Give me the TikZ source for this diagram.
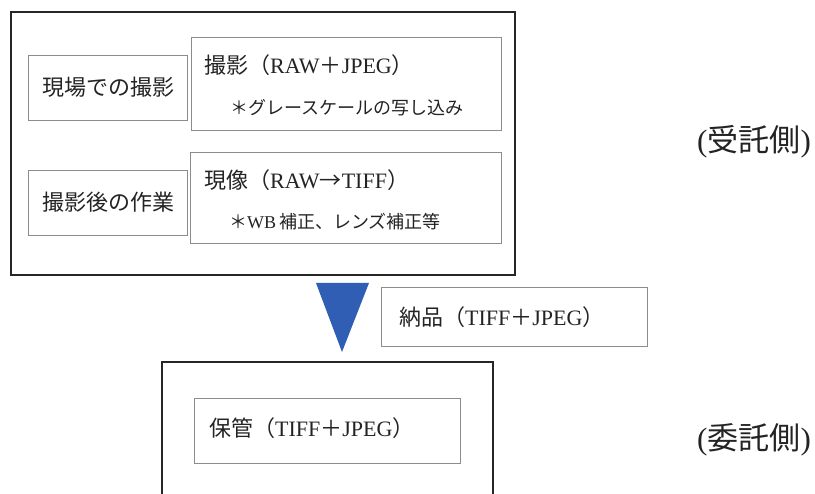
\documentclass[tikz,border=0pt]{standalone}
\usepackage{fontspec}
\setmainfont{Liberation Serif}
\newfontfamily\cjk{Noto Sans CJK JP}
\definecolor{tri}{RGB}{47,94,180}
\definecolor{txt}{RGB}{35,35,35}
\begin{document}
\begin{tikzpicture}[x=1pt,y=-1pt,
  outerbox/.style={draw=black!85,line width=1.8pt},
  innerbox/.style={draw=black!45,line width=1.4pt,anchor=north west,inner sep=0pt},
  lbl/.style={anchor=west,inner sep=0pt,text=txt,font=\fontsize{22}{22}\selectfont},
  small/.style={anchor=west,inner sep=0pt,text=txt,font=\fontsize{18}{18}\selectfont},
  side/.style={anchor=west,inner sep=0pt,text=txt,font=\fontsize{31}{31}\selectfont}]
\useasboundingbox (0,0) rectangle (815,494);
% upper outer box
\draw[outerbox] (11,12) rectangle (515,275);
% inner boxes
\node[innerbox,minimum width=159pt,minimum height=65pt] (genba) at (28,55) {};
\node[innerbox,minimum width=310pt,minimum height=93pt] (satsuei) at (191,37) {};
\node[innerbox,minimum width=159pt,minimum height=65pt] (sagyou) at (28,170) {};
\node[innerbox,minimum width=311pt,minimum height=91pt] (genzou) at (190,152) {};
% texts
\node[lbl] (t1) at (42,87) {\cjk 現場での撮影};
\node[lbl] (t2) at (42,202) {\cjk 撮影後の作業};
\node[lbl] (t3) at (204,65) {{\cjk 撮影（}RAW{\cjk ＋}JPEG{\cjk ）}};
\node[small] (t4) at (230,108) {\cjk ＊グレースケールの写し込み};
\node[lbl] (t5) at (204,180) {{\cjk 現像（}RAW{\cjk →}TIFF{\cjk ）}};
\node[small] (t6) at (229,222) {{\cjk ＊}WB\,{\cjk 補正、レンズ補正等}};
% triangle
\coordinate (ta) at (316,283);
\coordinate (tb) at (369,283);
\coordinate (tc) at (342,352);
\fill[tri] (ta) -- (tb) -- (tc) -- cycle;
% delivery box
\node[innerbox,minimum width=266pt,minimum height=59pt] (nouhin) at (381,287) {};
\node[lbl] (t7) at (399,317) {{\cjk 納品（}TIFF{\cjk ＋}JPEG{\cjk ）}};
% lower outer box (cut at bottom)
\coordinate (b1) at (162,494);
\coordinate (b2) at (162,362);
\coordinate (b3) at (493,362);
\coordinate (b4) at (493,494);
\draw[outerbox] (b1) -- (b2) -- (b3) -- (b4);
\node[innerbox,minimum width=266pt,minimum height=65pt] (hokan) at (194,398) {};
\node[lbl] (t8) at (209,428) {{\cjk 保管（}TIFF{\cjk ＋}JPEG{\cjk ）}};
% side labels
\node[side] (s1) at (697,142) {({\cjk 受託側})};
\node[side] (s2) at (697,440) {({\cjk 委託側})};
\end{tikzpicture}
\end{document}
